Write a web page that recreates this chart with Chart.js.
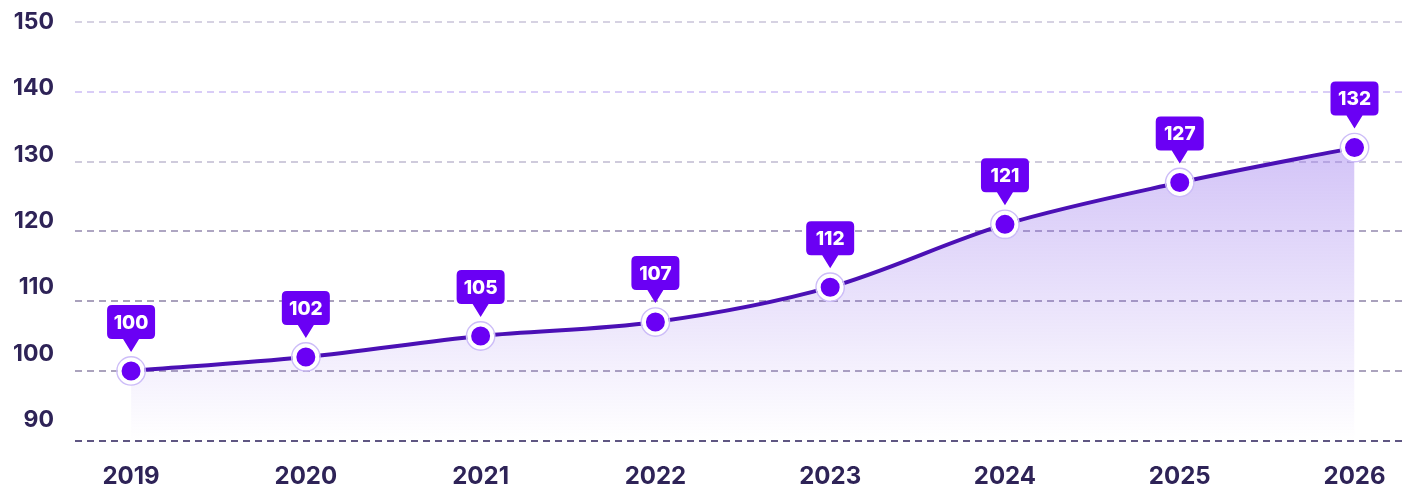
<!DOCTYPE html>
<html>
<head>
<meta charset="utf-8">
<script src="https://cdn.jsdelivr.net/npm/chart.js@4.4.1/dist/chart.umd.min.js"></script>
<style>
  html, body { margin: 0; padding: 0; background: #ffffff; }
  #wrap { position: relative; width: 1420px; height: 489px; }
</style>
</head>
<body>
<div id="wrap"><canvas id="c" width="1420" height="489"></canvas></div>
<script>
const years = ['2019', '2020', '2021', '2022', '2023', '2024', '2025', '2026'];
const values = [100, 102, 105, 107, 112, 121, 127, 132];
const yTicks = [90, 100, 110, 120, 130, 140, 150];

const TEXT = '#2e2357';
const LINE = '#4b10b5';
const MARK = '#6a00f4';

const gridColors = {150: '#d6d2e2', 140: '#d9cdf7', 130: '#cfcbdc', 120: '#aea6c2', 110: '#a9a1bc', 100: '#aba3bd', 90: '#5f5682'};

const points = values.map((v, i) => ({x: i, y: v}));

function noPad(scale) {
  scale.paddingTop = 0;
  scale.paddingBottom = 0;
  scale.paddingLeft = 0;
  scale.paddingRight = 0;
}

const calloutPlugin = {
  id: 'callouts',
  afterDatasetsDraw(chart) {
    const ctx = chart.ctx;
    const meta = chart.getDatasetMeta(0);
    ctx.save();
    meta.data.forEach((pt, i) => {
      const px = pt.x, py = pt.y;
      ctx.beginPath();
      ctx.arc(px, py, 14.2, 0, Math.PI * 2);
      ctx.strokeStyle = '#cdbdf8';
      ctx.lineWidth = 1.4;
      ctx.stroke();
      const w = 48, h = 34, r = 5;
      const x0 = px - w / 2, y0 = py - 66;
      ctx.beginPath();
      ctx.moveTo(x0 + r, y0);
      ctx.lineTo(x0 + w - r, y0);
      ctx.quadraticCurveTo(x0 + w, y0, x0 + w, y0 + r);
      ctx.lineTo(x0 + w, y0 + h - r);
      ctx.quadraticCurveTo(x0 + w, y0 + h, x0 + w - r, y0 + h);
      ctx.lineTo(px + 8, y0 + h);
      ctx.lineTo(px, py - 19);
      ctx.lineTo(px - 8, y0 + h);
      ctx.lineTo(x0 + r, y0 + h);
      ctx.quadraticCurveTo(x0, y0 + h, x0, y0 + h - r);
      ctx.lineTo(x0, y0 + r);
      ctx.quadraticCurveTo(x0, y0, x0 + r, y0);
      ctx.closePath();
      ctx.fillStyle = MARK;
      ctx.fill();
      ctx.fillStyle = '#ffffff';
      ctx.font = '800 19px Inter';
      ctx.textAlign = 'center';
      ctx.textBaseline = 'middle';
      ctx.fillText(String(values[i]), px, y0 + h / 2 + 1);
    });
    ctx.restore();
  }
};

const ctx = document.getElementById('c').getContext('2d');
new Chart(ctx, {
  type: 'line',
  data: {
    datasets: [{
      data: points,
      borderColor: LINE,
      borderWidth: 4,
      cubicInterpolationMode: 'monotone',
      fill: 'start',
      backgroundColor(context) {
        const area = context.chart.chartArea;
        if (!area) return 'rgba(140,100,235,0.3)';
        const g = context.chart.ctx.createLinearGradient(0, area.top, 0, area.bottom);
        g.addColorStop(0, 'rgba(140,100,235,0.55)');
        g.addColorStop(1, 'rgba(140,100,235,0.0)');
        return g;
      },
      pointRadius: 11.5,
      pointHoverRadius: 11.5,
      pointBackgroundColor: MARK,
      pointBorderColor: '#ffffff',
      pointBorderWidth: 4,
      clip: false
    }]
  },
  options: {
    responsive: false,
    animation: false,
    events: [],
    layout: { padding: { top: 22, left: 0, right: 0, bottom: 0 } },
    plugins: {
      legend: { display: false },
      tooltip: { enabled: false },
      title: { display: false }
    },
    scales: {
      x: {
        type: 'linear',
        min: -0.3208,
        max: 7.286,
        grid: { display: false, drawTicks: false },
        border: { display: false },
        afterBuildTicks(scale) { scale.ticks = years.map((_, i) => ({value: i})); },
        afterFit(scale) { scale.height = 48.3; noPad(scale); },
        ticks: {
          autoSkip: false,
          maxRotation: 0,
          padding: 22,
          color: TEXT,
          font: { family: 'Inter', size: 24, weight: '700' },
          callback(v) { return years[v]; }
        }
      },
      y: {
        position: 'left',
        min: 90,
        max: 150,
        afterBuildTicks(scale) { scale.ticks = yTicks.map(v => ({value: v})); },
        afterFit(scale) { scale.width = 0; noPad(scale); },
        border: { display: false, dash: [7, 5] },
        grid: {
          drawTicks: false,
          lineWidth: 2,
          color(c) { return gridColors[c.tick.value] || '#aaa2bd'; }
        },
        ticks: { display: false }
      },
      yLab: {
        position: 'left',
        min: 86.88,
        max: 150,
        afterBuildTicks(scale) { scale.ticks = yTicks.map(v => ({value: v})); },
        afterFit(scale) { scale.width = 75; noPad(scale); },
        grid: { display: false, drawTicks: false },
        border: { display: false },
        ticks: {
          padding: 21,
          color: TEXT,
          font: { family: 'Inter', size: 23, weight: '700' },
          callback(v) { return String(v); }
        }
      }
    }
  },
  plugins: [calloutPlugin]
});
</script>
</body>
</html>
